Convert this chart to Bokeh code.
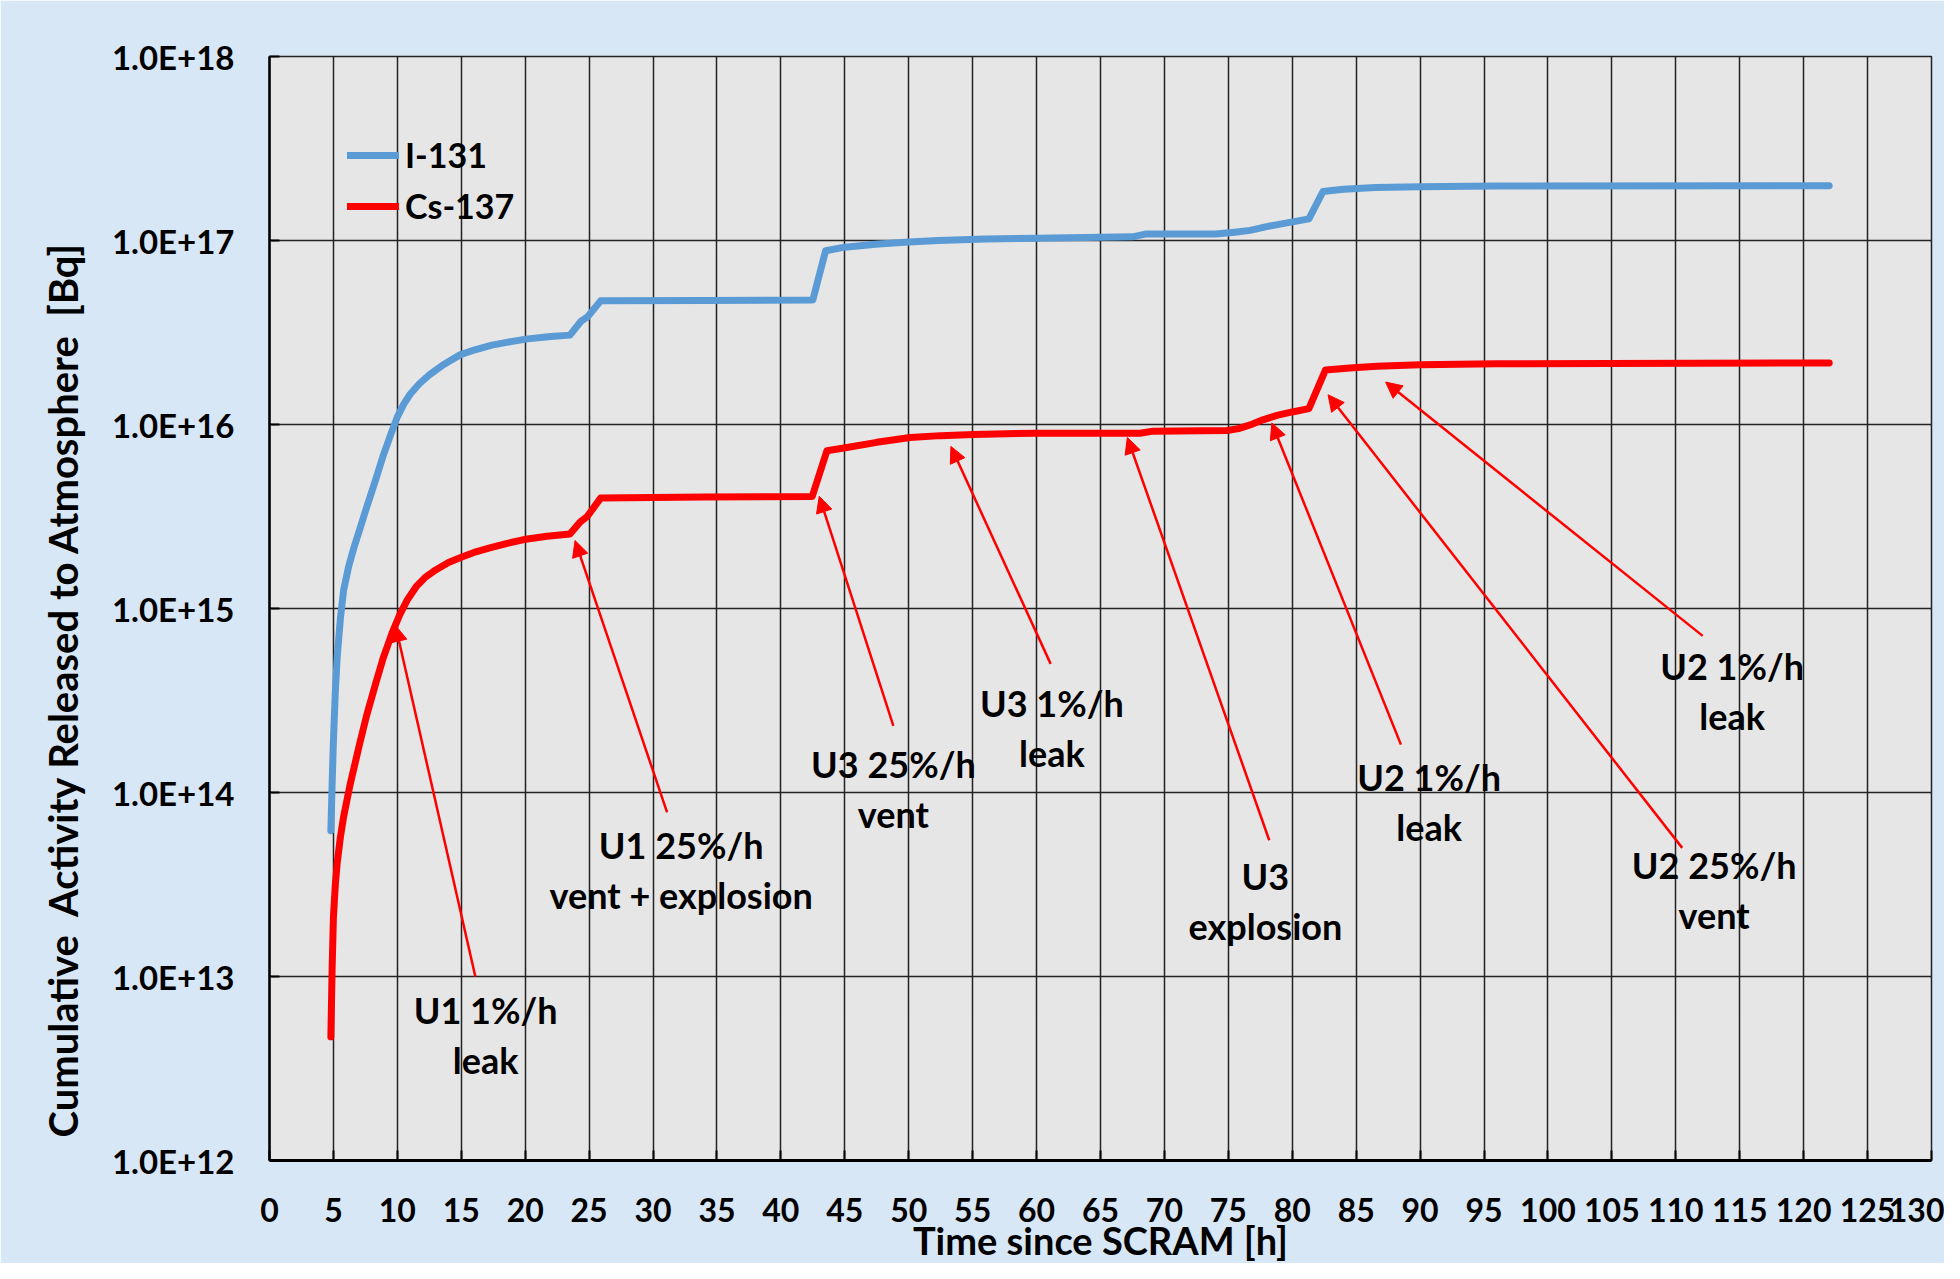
import numpy as np
from bokeh.plotting import figure
from bokeh.models import (ColumnDataSource, FixedTicker, CustomJSTickFormatter,
                          Arrow, NormalHead, Title)
from bokeh.core.properties import value
from bokeh.embed import file_html
from bokeh.resources import INLINE

# ---------------- data ----------------
i131_time = [4.8, 4.9, 5.0, 5.15, 5.3, 5.55, 5.8, 6.2, 6.6, 7.1, 7.6, 8.3, 8.9, 9.5, 10.0,
             10.5, 11.0, 11.7, 12.5, 13.5, 14.9, 16.0, 17.4, 19.0, 20.2, 22.0, 23.5, 24.35,
             24.9, 25.9, 34.0, 42.5, 43.5, 45.0, 47.4, 50.0, 52.3, 56.0, 60.0, 67.5, 68.5,
             74.0, 75.5, 76.7, 78.0, 79.7, 81.3, 82.4, 84.0, 86.5, 90.0, 96.0, 122.0]
i131_bq = [6.2e13, 1.12e14, 1.9e14, 3.55e14, 5.5e14, 8.9e14, 1.26e15, 1.7e15, 2.14e15,
           2.75e15, 3.55e15, 5.0e15, 6.8e15, 8.9e15, 1.1e16, 1.29e16, 1.46e16, 1.66e16,
           1.86e16, 2.09e16, 2.39e16, 2.54e16, 2.7e16, 2.83e16, 2.92e16, 3.01e16, 3.06e16,
           3.63e16, 3.86e16, 4.7e16, 4.72e16, 4.75e16, 8.8e16, 9.2e16, 9.55e16, 9.8e16,
           1.0e17, 1.02e17, 1.03e17, 1.047e17, 1.084e17, 1.084e17, 1.11e17, 1.135e17,
           1.19e17, 1.25e17, 1.31e17, 1.845e17, 1.9e17, 1.94e17, 1.96e17, 1.98e17, 1.986e17]

cs137_time = [4.8, 4.9, 5.0, 5.15, 5.3, 5.55, 5.8, 6.3, 7.0, 7.6, 8.3, 8.9, 9.6, 10.2, 10.8,
              11.5, 12.2, 13.0, 14.0, 15.0, 16.2, 17.3, 18.6, 19.9, 21.7, 23.5, 24.3, 24.85,
              25.9, 34.0, 42.45, 43.6, 45.17, 47.5, 50.1, 52.5, 55.06, 60.0, 68.1, 69.1,
              74.9, 75.8, 76.7, 77.7, 78.8, 80.0, 81.3, 82.6, 84.5, 86.6, 90.0, 96.0, 122.0]
cs137_bq = [4.7e12, 1.12e13, 2.1e13, 3.16e13, 4.17e13, 5.75e13, 7.4e13, 1.1e14, 1.78e14,
            2.63e14, 3.9e14, 5.4e14, 7.4e14, 9.3e14, 1.12e15, 1.32e15, 1.48e15, 1.62e15,
            1.78e15, 1.9e15, 2.04e15, 2.14e15, 2.26e15, 2.37e15, 2.47e15, 2.54e15, 2.95e15,
            3.16e15, 3.98e15, 4.03e15, 4.06e15, 7.2e15, 7.5e15, 8.0e15, 8.5e15, 8.7e15,
            8.83e15, 8.97e15, 8.97e15, 9.2e15, 9.27e15, 9.5e15, 9.95e15, 1.06e16, 1.12e16,
            1.17e16, 1.22e16, 1.98e16, 2.03e16, 2.07e16, 2.11e16, 2.14e16, 2.16e16]

x_ticks = list(range(0, 135, 5))
y_ticks = [1e12, 1e13, 1e14, 1e15, 1e16, 1e17, 1e18]

ann_line1 = ["U1 1%/h", "U1 25%/h", "U3 25%/h", "U3 1%/h", "U3", "U2 1%/h", "U2 25%/h", "U2 1%/h"]
ann_line2 = ["leak", "vent + explosion", "vent", "leak", "explosion", "leak", "vent", "leak"]
ann_x = [16.9, 32.2, 48.8, 61.2, 77.9, 90.7, 113.0, 114.4]
ann_y = [4.8e12, 3.8e13, 1.05e14, 2.24e14, 2.57e13, 8.9e13, 2.95e13, 3.55e14]

arrow_x_from = [16.1, 31.1, 48.8, 61.1, 78.2, 88.5, 110.5, 112.1]
arrow_y_from = [1.0e13, 7.8e13, 2.3e14, 5.0e14, 5.5e13, 1.82e14, 5.0e13, 7.1e14]
arrow_x_to = [9.85, 23.9, 43.0, 53.3, 67.1, 78.4, 82.8, 87.3]
arrow_y_to = [8.1e14, 2.34e15, 4.07e15, 7.6e15, 8.5e15, 1.02e16, 1.45e16, 1.7e16]

x_title = "Time since SCRAM [h]"
y_title = "Cumulative\u00a0 Activity Released to Atmosphere\u00a0 [Bq]"

FONT = "Lato"
BLUE = "#5B9BD5"
RED = "#FF0000"

# ---------------- figure ----------------
p = figure(width=1944, height=1263, output_backend="svg", toolbar_location=None,
           x_range=(0, 130), y_range=(1e12, 1e18), y_axis_type="log",
           min_border_left=269, min_border_right=13, min_border_top=56,
           min_border_bottom=103)
p.background_fill_color = "#E6E6E6"
p.border_fill_color = "#D8E7F5"
p.outline_line_color = "#222222"
p.outline_line_width = 1.5

p.xaxis.ticker = FixedTicker(ticks=x_ticks)
p.yaxis.ticker = FixedTicker(ticks=y_ticks)
p.yaxis.formatter = CustomJSTickFormatter(code="return tick.toExponential(1).toUpperCase();")

for ax in (p.xaxis, p.yaxis):
    ax.axis_line_color = "black"
    ax.major_tick_line_color = "black"
    ax.major_tick_line_width = 2
    ax.major_tick_in = 10
    ax.major_tick_out = 0
    ax.minor_tick_line_color = None
    ax.major_label_text_font = FONT
    ax.major_label_text_font_style = "bold"
    ax.major_label_text_color = "black"
p.xaxis.major_label_text_font_size = "32px"
p.yaxis.major_label_text_font_size = "33px"
p.xaxis.axis_line_width = 3
p.yaxis.axis_line_width = 2.5
p.xaxis.major_label_standoff = 37
p.yaxis.major_label_standoff = 35

p.xgrid.ticker = FixedTicker(ticks=x_ticks)
p.ygrid.ticker = FixedTicker(ticks=y_ticks)
p.grid.grid_line_color = "#222222"
p.grid.grid_line_width = 1.5
p.ygrid.minor_grid_line_color = None

# curves
p.line(i131_time, i131_bq, line_color=BLUE, line_width=7, line_cap="round",
       line_join="round", legend_label="I-131")
p.line(cs137_time, cs137_bq, line_color=RED, line_width=7, line_cap="round",
       line_join="round", legend_label="Cs-137")

leg = p.legend[0]
leg.location = "top_left"
leg.margin = 68
leg.padding = 10
leg.spacing = 10
leg.glyph_width = 52
leg.glyph_height = 40
leg.label_height = 40
leg.label_standoff = 6
leg.label_text_font = FONT
leg.label_text_font_style = "bold"
leg.label_text_font_size = "34px"
leg.label_text_color = "black"
leg.background_fill_alpha = 0
leg.border_line_alpha = 0

# arrows
arrow_src = ColumnDataSource(dict(x0=arrow_x_from, y0=arrow_y_from, x1=arrow_x_to, y1=arrow_y_to))
p.add_layout(Arrow(end=NormalHead(size=16, fill_color=RED, line_color=RED, line_width=1),
                   x_start="x0", y_start="y0", x_end="x1", y_end="y1",
                   source=arrow_src, line_color=RED, line_width=2.5))

# annotation texts
ann_src = ColumnDataSource(dict(x=ann_x, y=ann_y, l1=ann_line1, l2=ann_line2))
for col, off in (("l1", -25), ("l2", 25)):
    p.text(x="x", y="y", text=col, source=ann_src, y_offset=off,
           text_align="center", text_baseline="middle", text_font=value(FONT),
           text_font_style="bold", text_font_size="36px", text_color="black")

# axis titles
p.add_layout(Title(text=x_title, align="center", vertical_align="middle", standoff=-18,
                   text_font=FONT, text_font_style="bold", text_font_size="38px",
                   text_color="black"), "below")
p.add_layout(Title(text=y_title, align="left", offset=23, vertical_align="middle",
                   standoff=41, text_font=FONT, text_font_style="bold",
                   text_font_size="40px", text_color="black"), "left")

open("out.html", "w").write(file_html(p, INLINE))
